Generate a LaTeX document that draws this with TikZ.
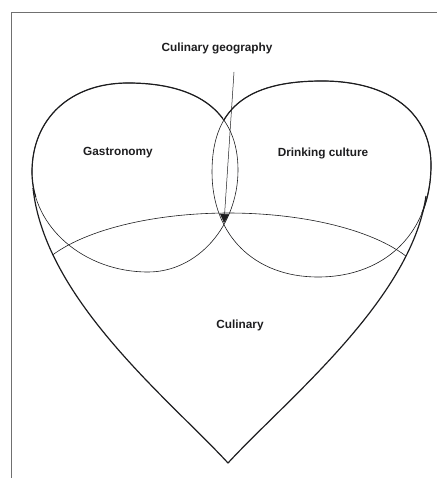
\documentclass[tikz,border=0pt]{standalone}
\usepackage{fontspec}
\setmainfont{Liberation Sans}
\usepackage{tikz}
\usetikzlibrary{arrows.meta}
\definecolor{ink}{HTML}{1D1D1F}
\definecolor{frame}{HTML}{707070}
\tikzset{lobe/.style={line width=.6pt,draw=ink},
  rim/.style={line width=1.2pt,draw=ink,line join=round},
  lab/.style={font=\fontsize{11.8}{14}\selectfont\bfseries,text=ink}}
\newcommand\gastropath{(32,172) .. controls (32,119) and (70,83) .. (128,83)
  .. controls (199.5,83) and (238,113.4) .. (238,170)
  .. controls (238,226) and (197.5,272) .. (148,272)
  .. controls (84,272) and (32,227) .. cycle}
\newcommand\drinkpath{(212,172) .. controls (212,110) and (245,81) .. (322,81)
  .. controls (389.6,81) and (431,113) .. (431,165)
  .. controls (431,232) and (386,277) .. (318,277)
  .. controls (254,277) and (212,235) .. cycle}
\newcommand\heartside{(33,188) .. controls (45,300) and (170,400) .. (228,463)
  .. controls (286,400) and (411,300) .. (426,196)}

\begin{document}
\begin{tikzpicture}[x=1pt,y=-1pt]
\useasboundingbox (0,0) rectangle (437,478);
\draw[frame,line width=.8pt] (11,478) -- (11,12) -- (437,12);
% the two upper lobes, thin, then their outer rims thick
\draw[lobe] \gastropath;
\draw[lobe] \drinkpath;
\begin{scope}\clip (0,0) rectangle (223,196); \draw[rim] \gastropath; \end{scope}
\begin{scope}\clip (224,0) rectangle (437,212); \draw[rim] \drinkpath; \end{scope}
% culinary arc, cut by the heart sides
\begin{scope}
\clip \heartside -- (426,150) -- (33,150) -- cycle;
\draw[lobe] plot[domain=165:15,samples=70] ({228.5+200*cos(\x)},{293-80*sin(\x)});
\end{scope}
\draw[rim] \heartside;
% labels
\node[lab] (geo) at (217,48) {Culinary geography};
\node[lab] (gastro) at (118,153) {Gastronomy};
\node[lab] (drink) at (323,153) {Drinking culture};
\node[lab] (cul) at (240,325) {Culinary};
\coordinate (lead) at (234,72);
\coordinate (core) at (224,223);
\draw[line width=.5pt,ink,-{Triangle[length=9pt,width=9pt]}] (lead) -- (core);
\end{tikzpicture}
\end{document}
